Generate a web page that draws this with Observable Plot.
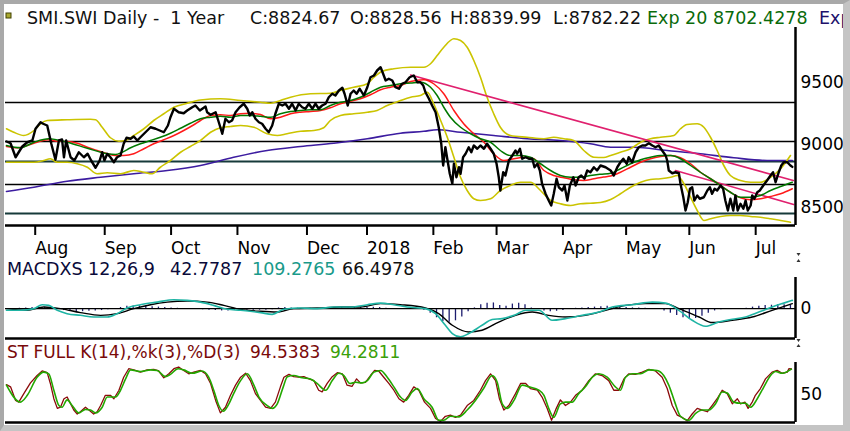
<!DOCTYPE html>
<html><head><meta charset="utf-8">
<script src="https://cdn.jsdelivr.net/npm/d3@7"></script>
<script src="https://cdn.jsdelivr.net/npm/@observablehq/plot@0.6"></script>
<style>
html,body{margin:0;padding:0;background:#fff;}
#wrap{position:relative;width:850px;height:431px;overflow:hidden;background:#fff;}
.p{position:absolute;left:0;}
#ov{position:absolute;left:0;top:0;font-family:"DejaVu Sans",sans-serif;font-size:17.5px;}
#border{position:absolute;left:0;top:0;width:850px;height:431px;box-sizing:border-box;border-top:4px solid #a9a9a9;border-left:4px solid #a9a9a9;border-right:7px solid #c4c4c4;border-bottom:6px solid #c4c4c4;pointer-events:none;}
</style></head><body>
<div id="wrap">
<div id="p1" class="p" style="top:0px"></div>
<div id="p2" class="p" style="top:262px"></div>
<div id="p3" class="p" style="top:342px"></div>
<svg id="ov" width="850" height="431">
<rect x="6" y="13" width="5" height="5" fill="#a8a830" stroke="#404000" stroke-width="1"/>
<text x="27" y="24" fill="#111">SMI.SWI Daily -&#160; 1 Year</text>
<text x="250" y="24" fill="#111">C:8824.67</text>
<text x="350" y="24" fill="#111">O:8828.56</text>
<text x="450" y="24" fill="#111">H:8839.99</text>
<text x="553" y="24" fill="#111">L:8782.22</text>
<text x="647" y="24" fill="#0a6a0a">Exp 20 8702.4278</text>
<text x="819" y="24" fill="#20106a">Exp</text>
<text x="7" y="274.5" fill="#0a0a3a">MACDXS 12,26,9</text>
<text x="170" y="274.5" fill="#0a0a3a">42.7787</text>
<text x="252" y="274.5" fill="#1a9a8a">109.2765</text>
<text x="342" y="274.5" fill="#111">66.4978</text>
<text x="7" y="358" fill="#7a0a0a" font-size="17px">ST FULL K(14),%k(3),%D(3)</text>
<text x="250" y="358" fill="#7a0a0a" font-size="17px">94.5383</text>
<text x="330" y="358" fill="#3aa00a" font-size="17px">94.2811</text>
<path d="M796.5,253 l2,3 l2,-3 z M796.5,262 l2,-3 l2,3 z M796.5,339 l2,3 l2,-3 z M796.5,347 l2,-3 l2,3 z" fill="#333"/>
</svg>
<div id="border"></div>
</div>
<script>
// ---------- axes / ticks ----------
const xDomain = [-9.4, 240.6];               // trading-day index (0 = first trading day of Aug 2017)
const monthTicks = [0, 22, 43, 64, 86, 105, 126, 146, 167, 187, 207, 228];
const monthLabels = ["Aug","Sep","Oct","Nov","Dec","2018","Feb","Mar","Apr","May","Jun","Jul"];
const priceTicks = [8500, 9000, 9500];
const priceDomain = [8356, 9940];
const macdDomain = [-393, 410];
const stochDomain = [0, 106];

// ---------- price panel ----------
const close = [[-9.1,9028],[-7.8,9014],[-6.2,8902],[-4.1,8988],[-2.5,9022],[-0.9,9036],[0.1,9130],[1.7,9182],[2.5,9170],[3.8,9156],[5.1,9010],[6.4,8882],[7.5,9036],[8.5,9044],[9.1,8902],[9.8,9036],[11.2,8902],[12.4,8876],[13.8,8942],[15.4,8902],[16.6,8930],[17.7,8876],[19.1,8818],[20.4,8876],[21.2,8942],[21.9,8876],[22.8,8930],[23.8,8902],[24.9,8862],[25.9,8902],[27.0,8916],[28.0,9010],[28.9,9058],[30.2,9050],[31.2,9068],[32.3,9036],[33.3,9062],[34.9,9102],[36.5,9142],[38.1,9130],[39.4,9116],[40.7,9102],[42.0,9156],[42.8,9222],[43.9,9290],[45.4,9262],[47.0,9254],[48.1,9276],[49.7,9302],[50.7,9316],[52.1,9276],[53.9,9308],[54.4,9262],[55.5,9242],[57.1,9262],[58.1,9182],[59.2,9090],[60.2,9210],[61.3,9182],[62.3,9196],[63.4,9262],[64.7,9302],[66.0,9330],[67.1,9290],[67.9,9236],[68.7,9262],[69.7,9210],[70.8,9182],[71.8,9170],[72.9,9130],[73.9,9102],[75.0,9156],[76.0,9250],[77.1,9330],[78.2,9316],[79.2,9330],[80.3,9290],[81.3,9330],[82.4,9276],[83.4,9330],[84.5,9302],[85.5,9290],[86.6,9330],[87.7,9290],[88.7,9330],[89.7,9290],[90.8,9316],[91.9,9330],[92.9,9382],[94.0,9410],[95.0,9396],[96.1,9436],[97.2,9458],[97.9,9410],[98.9,9316],[99.8,9410],[100.8,9436],[101.7,9410],[102.7,9450],[104.0,9396],[105.1,9462],[106.1,9542],[107.2,9556],[108.2,9596],[109.3,9622],[110.1,9570],[110.9,9516],[111.9,9530],[113.0,9516],[114.0,9462],[115.1,9450],[116.1,9490],[117.2,9502],[118.5,9542],[119.8,9556],[120.9,9502],[121.9,9502],[122.8,9476],[123.5,9422],[124.6,9370],[125.6,9316],[126.7,9262],[127.7,9142],[128.5,9010],[129.1,8836],[129.8,8982],[130.4,8890],[131.2,8770],[132.0,8690],[132.5,8850],[133.3,8742],[134.1,8822],[134.6,8770],[135.4,8902],[136.2,8930],[137.2,8982],[138.0,8942],[138.8,8996],[139.9,8970],[140.9,8996],[142.0,8970],[143.0,9010],[144.1,8970],[145.1,8930],[146.0,8850],[146.7,8742],[147.2,8636],[148.1,8782],[148.8,8756],[149.9,8876],[151.0,8916],[152.0,8956],[152.5,8930],[153.4,8970],[154.1,8890],[155.2,8902],[156.2,8890],[157.3,8890],[158.0,8822],[158.9,8850],[159.7,8796],[160.4,8690],[161.5,8610],[162.5,8556],[163.3,8516],[164.1,8610],[165.0,8730],[165.7,8662],[166.8,8636],[167.5,8676],[168.4,8556],[169.2,8676],[170.3,8742],[171.0,8676],[172.0,8742],[172.8,8756],[173.8,8730],[174.7,8796],[175.7,8782],[176.8,8822],[177.8,8796],[178.9,8836],[180.5,8822],[182.1,8796],[183.1,8756],[184.2,8822],[185.2,8862],[186.1,8890],[187.2,8850],[187.8,8902],[188.9,8862],[190.0,8942],[191.0,8982],[192.1,8996],[193.1,8996],[194.2,9014],[195.3,8996],[196.3,8982],[197.3,8996],[198.4,8956],[199.5,8916],[200.0,8876],[200.5,8796],[201.6,8774],[202.6,8782],[203.7,8774],[204.2,8690],[205.1,8582],[205.8,8476],[206.5,8542],[207.2,8650],[207.9,8662],[208.6,8556],[209.5,8596],[210.3,8570],[211.6,8582],[212.7,8636],[213.5,8662],[214.2,8610],[215.0,8650],[215.8,8636],[216.9,8676],[217.7,8650],[218.4,8556],[219.2,8476],[220.0,8570],[220.9,8476],[221.6,8596],[222.3,8476],[223.2,8530],[224.1,8490],[224.8,8556],[225.5,8476],[226.4,8516],[226.9,8596],[227.6,8570],[228.5,8622],[229.3,8636],[230.4,8676],[231.6,8716],[232.7,8756],[233.5,8782],[234.3,8702],[235.3,8782],[236.1,8836],[236.9,8862],[238.0,8862],[239.0,8836],[239.6,8825]];

const ema20 = [[-9.1,8996],[-4.7,8978],[-0.4,9022],[4.3,9050],[10.1,9022],[16.5,8974],[22.8,8930],[25.4,8924],[27.5,8942],[30.2,8978],[33.3,9010],[36.5,9036],[39.6,9062],[42.8,9094],[46.0,9134],[49.1,9174],[52.3,9210],[55.5,9222],[58.6,9230],[61.8,9222],[65.0,9236],[68.1,9236],[71.3,9230],[74.5,9222],[77.6,9250],[80.8,9268],[83.9,9276],[87.1,9282],[90.3,9282],[93.4,9316],[96.6,9342],[99.8,9356],[102.9,9382],[106.1,9422],[109.3,9462],[112.4,9476],[115.6,9490],[118.8,9496],[121.9,9502],[125.1,9462],[127.2,9396],[129.3,9302],[131.4,9222],[134.6,9142],[137.8,9090],[140.9,9050],[144.1,9022],[147.2,8956],[150.4,8916],[153.6,8916],[156.7,8902],[159.9,8850],[163.1,8796],[166.2,8756],[169.4,8742],[172.6,8742],[175.7,8756],[178.9,8766],[182.1,8774],[185.2,8810],[188.4,8850],[191.6,8882],[194.7,8902],[197.9,8916],[201.1,8916],[204.2,8890],[207.4,8836],[210.5,8782],[213.7,8730],[216.9,8676],[220.0,8622],[223.2,8582],[226.4,8582],[229.5,8596],[232.7,8636],[235.9,8668],[239.6,8702]];

const ma = [[-9.1,8988],[-5.7,8978],[-2.5,8996],[0.6,9022],[3.8,9042],[7.0,9030],[10.1,9028],[13.3,9014],[16.5,8982],[19.6,8956],[22.8,8930],[25.4,8916],[28.0,8916],[31.2,8930],[34.4,8970],[37.5,9010],[40.7,9042],[43.9,9076],[47.0,9116],[50.2,9162],[52.3,9196],[55.5,9236],[58.6,9242],[61.8,9236],[65.0,9250],[68.1,9254],[71.3,9244],[74.5,9210],[77.6,9222],[80.8,9250],[83.9,9262],[87.1,9268],[90.3,9276],[93.4,9298],[96.6,9330],[99.8,9350],[102.9,9370],[106.1,9402],[109.3,9442],[112.4,9462],[115.6,9476],[118.8,9508],[123.0,9522],[126.1,9490],[129.3,9410],[132.5,9276],[135.6,9170],[138.8,9090],[142.0,9022],[145.1,8930],[148.3,8876],[151.5,8890],[154.6,8902],[157.8,8890],[161.0,8796],[164.1,8756],[167.3,8738],[170.4,8722],[173.6,8716],[176.8,8730],[179.9,8744],[182.1,8752],[185.2,8782],[188.4,8822],[191.6,8862],[194.7,8890],[197.9,8908],[201.1,8916],[204.2,8898],[207.4,8850],[210.5,8782],[213.7,8730],[216.9,8676],[220.0,8622],[223.2,8578],[226.4,8562],[229.5,8570],[232.7,8588],[235.9,8610],[239.6,8650]];

const ema200 = [[-9.1,8628],[-0.4,8662],[10.1,8710],[20.7,8742],[31.2,8770],[41.8,8796],[52.3,8836],[62.8,8902],[73.4,8956],[84.0,8988],[94.5,9014],[105.1,9050],[115.6,9094],[123.0,9110],[127.2,9122],[134.6,9102],[145.1,9076],[155.7,9050],[166.2,9036],[175.7,9010],[182.1,8982],[189.4,8982],[200.0,8956],[210.5,8930],[221.1,8898],[231.6,8876],[239.6,8876]];

const bbUpper = [[-9.1,9130],[-6.8,9102],[-3.6,9076],[-0.4,9116],[1.7,9170],[3.8,9196],[10.1,9202],[17.5,9206],[19.1,9202],[21.2,9142],[23.8,9058],[26.5,9030],[28.6,9036],[31.2,9076],[34.4,9130],[37.5,9196],[40.7,9250],[43.9,9302],[48.1,9334],[52.3,9360],[58.6,9370],[65.0,9356],[71.3,9342],[74.5,9334],[77.6,9356],[80.8,9382],[87.1,9410],[93.4,9414],[96.6,9436],[100.8,9462],[105.1,9490],[107.2,9542],[109.8,9590],[113.5,9610],[118.8,9622],[123.0,9622],[125.1,9650],[127.2,9716],[129.3,9782],[132.5,9850],[134.6,9836],[136.7,9782],[138.8,9676],[140.9,9542],[143.0,9382],[145.1,9250],[147.2,9142],[150.4,9076],[155.7,9062],[161.0,9050],[164.1,9062],[167.3,9050],[170.4,9036],[173.6,8956],[176.8,8902],[179.9,8900],[182.1,8916],[185.2,8942],[188.4,8970],[191.6,9022],[194.7,9050],[197.9,9062],[202.1,9076],[204.2,9130],[206.3,9164],[209.5,9170],[211.6,9142],[213.7,9062],[215.8,8956],[217.9,8836],[220.0,8756],[223.2,8716],[226.4,8702],[229.5,8702],[232.7,8742],[235.9,8810],[239.0,8916]];

const bbLower = [[-9.1,8862],[-4.7,8862],[-0.4,8862],[2.7,8876],[4.8,8890],[7.0,8862],[10.1,8862],[13.3,8850],[16.5,8822],[19.6,8770],[22.8,8778],[27.0,8770],[31.2,8796],[34.4,8782],[37.0,8770],[39.6,8822],[42.8,8876],[46.0,8942],[49.1,8988],[52.3,9036],[55.5,9102],[58.6,9138],[61.8,9148],[65.0,9156],[69.2,9142],[73.4,9090],[76.6,9076],[79.7,9090],[84.0,9110],[88.2,9116],[91.3,9138],[93.4,9196],[96.6,9236],[100.8,9250],[105.1,9262],[108.2,9276],[111.4,9316],[115.6,9356],[118.8,9382],[121.9,9396],[124.1,9422],[126.1,9330],[128.3,9196],[130.4,9062],[132.5,8902],[134.6,8742],[136.7,8636],[138.8,8570],[140.9,8556],[144.1,8570],[147.2,8636],[150.4,8676],[153.6,8702],[156.7,8702],[159.9,8636],[163.1,8556],[166.2,8530],[169.4,8516],[172.6,8530],[175.7,8534],[178.9,8540],[182.1,8564],[185.2,8610],[188.4,8662],[191.6,8702],[194.7,8724],[197.9,8730],[201.1,8742],[203.2,8756],[205.3,8690],[207.4,8582],[209.5,8476],[211.6,8396],[213.7,8410],[216.9,8428],[220.0,8436],[223.2,8436],[226.4,8428],[229.5,8422],[232.7,8410],[235.9,8396],[239.0,8382]];

const trend1 = [[118.8,9560],[239.9,8716]];
const trend2 = [[202.6,8796],[240.0,8524]];
const levelsBlack = [9340, 9028, 8684];
const levelsDark = [8868, 8452];

// ---------- MACD panel ----------
const macdLine = [[-9.1,-22],[-4.7,-22],[-0.4,0],[2.2,52],[4.3,43],[7.0,-22],[10.1,-66],[14.3,-88],[18.5,-110],[22.8,-110],[25.9,-66],[29.1,8],[33.3,52],[38.6,86],[43.9,118],[48.1,109],[52.3,86],[56.5,43],[60.8,-9],[65.0,-22],[71.3,-52],[75.0,-75],[78.7,-9],[84.0,8],[89.2,0],[94.5,21],[99.8,21],[105.1,52],[109.3,73],[113.5,52],[117.7,21],[123.5,0],[126.7,-66],[129.8,-219],[132.0,-328],[134.6,-372],[137.2,-328],[141.4,-219],[144.6,-144],[147.8,-131],[152.0,-79],[155.2,-22],[159.4,-22],[163.6,-153],[167.8,-131],[173.1,-88],[178.4,-45],[182.6,21],[188.9,52],[195.3,86],[199.5,73],[203.7,-22],[207.9,-153],[212.1,-232],[216.3,-176],[220.6,-140],[224.8,-110],[229.0,-45],[233.2,21],[236.4,66],[239.6,109]];

const signalLine = [[-9.1,0],[-2.5,-22],[2.7,21],[8.0,0],[14.3,-52],[20.7,-88],[25.9,-66],[31.2,0],[36.5,52],[41.8,86],[48.1,100],[54.4,86],[59.7,43],[65.0,-9],[71.3,-35],[76.6,-45],[81.8,0],[89.2,8],[96.6,21],[102.9,21],[109.3,66],[115.6,52],[123.5,8],[127.7,-66],[132.0,-219],[137.2,-307],[141.4,-284],[146.7,-176],[152.0,-88],[157.3,-45],[162.5,-88],[167.8,-110],[174.1,-88],[180.5,-22],[186.8,43],[193.1,66],[199.5,66],[203.7,0],[210.1,-110],[214.3,-183],[220.6,-153],[226.9,-110],[233.2,-22],[239.6,66]];

const histogram = [[-9,-5],[-7,-5],[-5,5],[-3,10],[-1,15],[1,20],[3,20],[5,10],[7,-10],[9,-25],[11,-35],[13,-40],[15,-40],[17,-35],[19,-30],[21,-25],[23,-15],[25,0],[27,15],[29,30],[31,35],[33,35],[35,30],[37,25],[39,20],[41,15],[43,10],[45,5],[47,0],[49,-5],[51,-10],[53,-15],[55,-20],[57,-25],[59,-30],[61,-30],[63,-25],[65,-20],[67,-20],[69,-20],[71,-20],[73,-20],[75,-15],[77,10],[79,15],[81,10],[83,5],[85,0],[87,5],[89,0],[91,5],[93,10],[95,10],[97,15],[99,10],[101,15],[103,15],[105,15],[107,20],[109,15],[111,5],[113,-5],[115,-10],[117,-10],[119,-5],[121,-5],[123,-20],[125,-60],[127,-120],[129,-170],[131,-180],[133,-160],[135,-110],[137,-40],[139,10],[141,50],[143,70],[145,75],[147,40],[149,30],[151,60],[153,70],[155,50],[157,10],[159,-10],[161,-30],[163,-40],[165,-35],[167,-25],[169,-10],[171,5],[173,10],[175,15],[177,20],[179,25],[181,30],[183,25],[185,20],[187,15],[189,10],[191,10],[193,5],[195,0],[197,-10],[199,-30],[201,-60],[203,-90],[205,-120],[207,-140],[209,-130],[211,-100],[213,-60],[215,-30],[217,-15],[219,-10],[221,-10],[223,-5],[225,5],[227,20],[229,30],[231,40],[233,45],[235,50],[237,50],[239,43]];

// ---------- Stochastic panel ----------
const stochK = [[-9.1,67],[-7.8,63],[-6.2,39],[-5.2,36],[-3.6,51],[-1.5,70],[0.6,83],[2.2,91],[3.8,88],[4.8,69],[5.9,42],[7.0,25],[8.0,27],[9.1,42],[10.1,45],[11.2,33],[12.2,22],[13.3,15],[14.3,19],[15.9,27],[17.0,22],[18.5,15],[19.6,19],[20.7,30],[22.2,48],[23.8,48],[24.9,42],[26.5,57],[28.0,80],[29.6,95],[31.2,93],[33.3,89],[35.4,93],[37.5,94],[39.1,91],[40.7,79],[42.3,86],[43.9,95],[45.4,98],[47.0,92],[48.6,86],[50.2,89],[52.3,92],[53.9,86],[55.5,69],[57.1,39],[58.6,17],[60.2,27],[61.8,48],[63.4,66],[65.0,80],[66.6,87],[68.1,74],[69.7,51],[71.3,39],[72.9,27],[74.5,25],[76.0,36],[77.6,63],[78.7,80],[80.3,85],[81.8,81],[83.4,80],[85.0,81],[86.6,77],[88.2,74],[89.7,57],[90.8,54],[92.4,69],[94.0,81],[95.6,88],[97.2,86],[98.7,66],[100.3,64],[101.7,77],[102.9,70],[104.5,71],[106.1,83],[107.4,92],[108.7,91],[110.3,80],[111.9,69],[113.5,57],[115.1,42],[116.6,36],[118.2,48],[119.8,63],[121.4,57],[123.2,36],[125.1,25],[126.7,7],[128.3,2],[129.8,11],[131.4,13],[133.0,9],[134.6,13],[136.7,30],[138.8,39],[140.9,57],[142.5,74],[144.1,86],[145.7,74],[146.9,42],[148.3,22],[149.9,30],[152.0,51],[153.6,69],[155.2,69],[156.7,60],[158.9,57],[160.4,45],[162.0,25],[163.4,4],[164.9,25],[166.2,40],[167.8,30],[169.4,36],[171.0,48],[173.1,57],[175.2,74],[177.3,86],[179.4,83],[181.5,74],[183.1,57],[184.7,57],[186.3,77],[187.8,86],[189.9,85],[192.1,89],[194.2,94],[196.3,91],[198.4,80],[200.0,60],[201.6,30],[203.2,13],[204.7,9],[206.3,3],[207.9,15],[209.5,25],[211.1,22],[212.7,19],[214.2,30],[215.8,42],[217.4,57],[219.0,51],[220.6,33],[222.2,42],[223.2,33],[224.6,36],[225.6,25],[226.9,36],[227.9,48],[229.5,60],[231.1,77],[233.2,89],[234.8,92],[236.4,87],[238.0,89],[238.5,95],[239.3,94.5]];

const stochD = [[-9.1,66],[-4.7,36],[-2.5,48],[0.6,80],[2.7,89],[4.3,86],[5.9,57],[7.5,30],[8.5,27],[10.1,40],[11.7,30],[13.8,17],[15.9,23],[17.5,22],[19.1,17],[21.2,27],[22.8,45],[25.4,45],[27.0,57],[28.6,77],[30.2,93],[33.3,90],[36.5,93],[38.6,92],[41.2,81],[42.8,85],[45.2,95],[47.0,93],[49.7,87],[52.8,91],[54.9,80],[56.5,57],[58.1,30],[59.5,20],[61.3,33],[62.8,51],[65.0,74],[67.1,86],[69.2,66],[70.8,45],[73.4,30],[75.0,25],[76.6,33],[78.5,63],[79.8,81],[81.8,83],[84.5,79],[87.1,77],[89.2,69],[91.9,57],[94.0,74],[96.1,87],[97.7,83],[99.6,69],[101.4,71],[103.5,70],[105.1,74],[107.2,89],[109.3,92],[111.4,80],[113.5,63],[115.6,45],[117.2,39],[119.3,54],[120.9,60],[123.0,42],[125.6,27],[127.7,4],[129.3,4],[131.4,11],[134.0,10],[136.7,22],[139.3,39],[141.9,60],[144.6,83],[146.2,71],[147.8,33],[149.4,25],[151.5,39],[154.1,66],[156.2,63],[159.4,57],[161.0,48],[162.5,25],[164.1,9],[166.2,33],[167.8,36],[169.9,36],[172.0,51],[174.1,63],[176.3,80],[178.4,86],[181.0,80],[183.6,63],[185.2,57],[186.8,80],[188.9,86],[191.6,86],[194.2,93],[196.8,92],[198.9,83],[200.5,66],[202.4,36],[204.2,11],[206.9,4],[209.0,16],[211.1,22],[213.2,22],[215.3,33],[217.4,54],[219.0,52],[221.1,36],[223.2,34],[224.8,34],[226.4,27],[228.5,42],[230.6,63],[232.7,83],[234.3,90],[236.4,87],[239.3,94.3]];

// ---------- rendering ----------
const pts = arr => arr.map(([d, v]) => ({d, v}));
const monthLabel = new Map(monthTicks.map((t, i) => [t, monthLabels[i]]));
const common = {
  width: 850, marginLeft: 5, marginRight: 55,
  style: {fontFamily: '"DejaVu Sans", sans-serif', fontSize: "17px", color: "black", background: "transparent", overflow: "visible"}
};
const line = (data, stroke, strokeWidth, curve = "monotone-x") =>
  Plot.line(pts(data), {x: "d", y: "v", stroke, strokeWidth, curve});
const rightAxis = ticks => Plot.axisY(ticks, {anchor: "right", label: null, tickSize: 0, tickPadding: 5, fontSize: 17, tickFormat: d => String(d)});

const price = Plot.plot({
  ...common, height: 262, marginTop: 27, marginBottom: 37,
  x: {domain: xDomain, label: null},
  y: {domain: priceDomain, label: null},
  marks: [
    Plot.ruleY(levelsBlack, {stroke: "#000", strokeWidth: 1.3}),
    Plot.ruleY(levelsDark, {stroke: "#163a3a", strokeWidth: 2}),
    line(ema200, "#3c1ca0", 1.6),
    line(bbUpper, "#cbc400", 1.6),
    line(bbLower, "#cbc400", 1.6),
    Plot.line(pts(trend1), {x: "d", y: "v", stroke: "#e0206e", strokeWidth: 1.6}),
    Plot.line(pts(trend2), {x: "d", y: "v", stroke: "#e0206e", strokeWidth: 1.6}),
    line(ma, "#ff1a1a", 1.5),
    line(ema20, "#007800", 1.5),
    line(close, "#000", 2.4, "linear"),
    Plot.ruleY([priceDomain[0]], {stroke: "#000", strokeWidth: 2.5}),
    Plot.ruleX([xDomain[1]], {stroke: "#000", strokeWidth: 2.5}),
    Plot.axisX(monthTicks, {anchor: "bottom", label: null, tickSize: 10, tickPadding: 6, textAnchor: "start", strokeWidth: 2, fontSize: 17, tickFormat: d => monthLabel.get(d)}),
    rightAxis(priceTicks)
  ]
});
document.getElementById("p1").append(price);

const macd = Plot.plot({
  ...common, height: 80, marginTop: 15, marginBottom: 4,
  x: {domain: xDomain, axis: null},
  y: {domain: macdDomain, label: null},
  marks: [
    Plot.ruleX(pts(histogram), {x: "d", y1: 0, y2: "v", stroke: "#1c1c6e", strokeWidth: 1.3}),
    Plot.ruleY([0], {stroke: "#000", strokeWidth: 1.4}),
    line(signalLine, "#000", 1.4),
    line(macdLine, "#1fb4a4", 1.6),
    Plot.ruleY([macdDomain[0]], {stroke: "#000", strokeWidth: 2.5}),
    Plot.ruleX([xDomain[1]], {stroke: "#000", strokeWidth: 2.5}),
    rightAxis([0])
  ]
});
document.getElementById("p2").append(macd);

const stoch = Plot.plot({
  ...common, height: 84, marginTop: 20, marginBottom: 4,
  x: {domain: xDomain, axis: null},
  y: {domain: stochDomain, label: null},
  marks: [
    line(stochK, "#8b0a0a", 1.3, "linear"),
    line(stochD, "#22a800", 1.6, "monotone-x"),
    Plot.ruleY([stochDomain[0]], {stroke: "#000", strokeWidth: 2.5}),
    Plot.ruleX([xDomain[1]], {stroke: "#000", strokeWidth: 2.5}),
    rightAxis([50])
  ]
});
document.getElementById("p3").append(stoch);
</script>
</body></html>
